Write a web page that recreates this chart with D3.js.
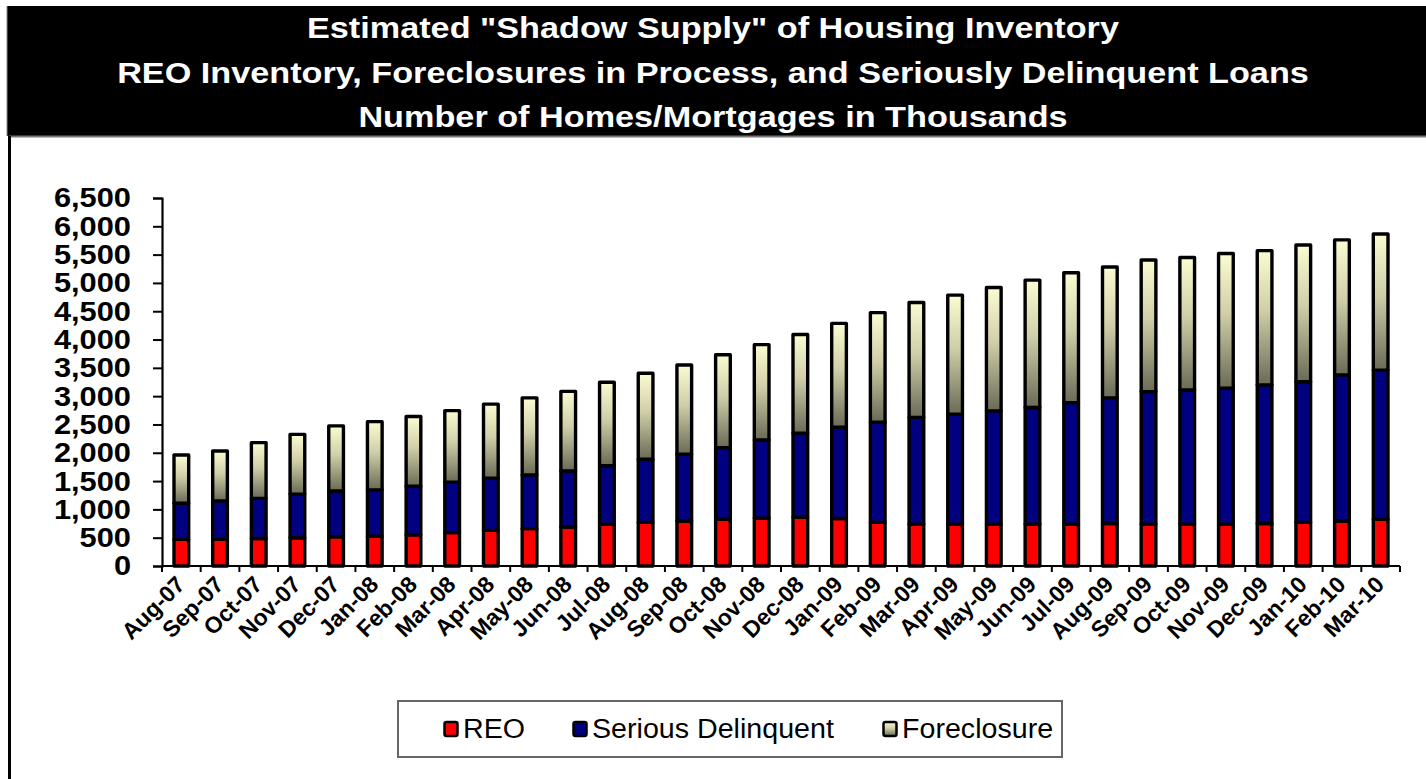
<!DOCTYPE html>
<html>
<head>
<meta charset="utf-8">
<script src="https://cdn.jsdelivr.net/npm/d3@7"></script>
<style>
  html, body { margin: 0; padding: 0; background: #fff; }
  svg { display: block; font-family: "Liberation Sans", Arial, sans-serif; }
</style>
</head>
<body>
<svg id="chart" width="1426" height="779"></svg>
<script>
// Monthly shadow inventory, thousands of homes/mortgages
const categories = ["Aug-07","Sep-07","Oct-07","Nov-07","Dec-07","Jan-08","Feb-08","Mar-08","Apr-08","May-08","Jun-08","Jul-08","Aug-08","Sep-08","Oct-08","Nov-08","Dec-08","Jan-09","Feb-09","Mar-09","Apr-09","May-09","Jun-09","Jul-09","Aug-09","Sep-09","Oct-09","Nov-09","Dec-09","Jan-10","Feb-10","Mar-10"];
const reo = [470,470,485,500,515,525,550,590,630,660,690,740,770,795,825,845,860,840,770,740,740,740,740,740,750,740,740,740,750,770,795,825];
const seriousDelinquent = [640,680,710,770,810,820,860,890,920,950,990,1030,1115,1180,1265,1380,1485,1610,1770,1885,1940,2000,2060,2145,2220,2340,2370,2400,2450,2485,2580,2635];
const foreclosure = [850,880,985,1055,1150,1205,1230,1265,1310,1360,1405,1475,1520,1575,1640,1685,1745,1835,1935,2030,2105,2180,2250,2295,2310,2325,2340,2380,2370,2415,2385,2405];
const yTickValues = [0,500,1000,1500,2000,2500,3000,3500,4000,4500,5000,5500,6000,6500];
const titleLines = [
  "Estimated \"Shadow Supply\" of Housing Inventory",
  "REO Inventory, Foreclosures in Process, and Seriously Delinquent Loans",
  "Number of Homes/Mortgages in Thousands"
];
const seriesKeys = ["reo", "sd", "fc"];
const seriesNames = { reo: "REO", sd: "Serious Delinquent", fc: "Foreclosure" };

const svg = d3.select("#chart");
const defs = svg.append("defs");

// Widen text glyphs by a factor, keeping the anchor point
function widen(sel, factor) {
  sel.each(function () {
    const w = this.getComputedTextLength();
    d3.select(this).attr("textLength", w * factor).attr("lengthAdjust", "spacingAndGlyphs");
  });
}

// Foreclosure fill: cream at the top fading to olive grey
const grad = defs.append("linearGradient")
  .attr("id", "fcGrad").attr("x1", 0).attr("y1", 0).attr("x2", 0).attr("y2", 1);
grad.append("stop").attr("offset", "0%").attr("stop-color", "#FCFCD2");
grad.append("stop").attr("offset", "45%").attr("stop-color", "#CFCEA8");
grad.append("stop").attr("offset", "100%").attr("stop-color", "#6A6A56");

const fills = { reo: "#FF0000", sd: "#000080", fc: "url(#fcGrad)" };

// Title band
svg.append("rect").attr("x", 7).attr("y", 6).attr("width", 1419).attr("height", 130).attr("fill", "#000");
svg.append("line").attr("x1", 7).attr("x2", 7).attr("y1", 6).attr("y2", 136).attr("stroke", "#888").attr("stroke-width", 1);
svg.append("g").selectAll("text").data(titleLines).join("text")
  .attr("x", 713).attr("y", (d, i) => 38 + i * 44.5)
  .attr("text-anchor", "middle")
  .attr("fill", "#fff")
  .attr("font-weight", "bold")
  .attr("font-size", 29)
  .text(d => d)
  .call(widen, 1.18);

// Chart frame
svg.append("line").attr("x1", 9).attr("x2", 1426).attr("y1", 136.5).attr("y2", 136.5).attr("stroke", "#777").attr("stroke-width", 2);
svg.append("line").attr("x1", 9.5).attr("x2", 9.5).attr("y1", 136).attr("y2", 779).attr("stroke", "#000").attr("stroke-width", 3);

// Scales
const x = d3.scaleBand().domain(categories).range([162, 1400]).paddingInner(0.62).paddingOuter(0.31);
const y = d3.scaleLinear().domain([0, 6500]).range([566, 198]);

// Stacked data
const rows = categories.map((c, i) => ({ cat: c, reo: reo[i], sd: seriousDelinquent[i], fc: foreclosure[i] }));
const stacked = d3.stack().keys(seriesKeys)(rows);

// Bars
const barG = svg.append("g");
barG.selectAll("g").data(stacked).join("g")
  .attr("fill", d => fills[d.key])
  .selectAll("rect").data(d => d).join("rect")
  .attr("x", d => x(d.data.cat))
  .attr("width", x.bandwidth())
  .attr("y", d => y(d[1]))
  .attr("height", d => y(d[0]) - y(d[1]))
  .attr("stroke", "#000")
  .attr("stroke-width", 3.4)
  .attr("stroke-linejoin", "round");

// Y axis
const yAxis = svg.append("g").attr("transform", "translate(162,0)")
  .call(d3.axisLeft(y).tickValues(yTickValues).tickSize(9).tickPadding(22).tickFormat(d3.format(",")));
yAxis.select(".domain").attr("stroke", "#000").attr("stroke-width", 2.2);
yAxis.selectAll(".tick line").attr("stroke", "#000").attr("stroke-width", 2);
yAxis.selectAll(".tick text")
  .attr("font-family", "'Liberation Sans', Arial, sans-serif")
  .attr("font-size", 28).attr("font-weight", "bold").attr("fill", "#000")
  .call(widen, 1.1);

// X axis line with ticks between the categories
const step = x.step();
const gap = step - x.bandwidth();
const boundaries = categories.map(c => x(c) - gap / 2).concat([x(categories[categories.length - 1]) + x.bandwidth() + gap / 2]);
svg.append("line").attr("x1", 162).attr("x2", boundaries[boundaries.length - 1]).attr("y1", 566).attr("y2", 566)
  .attr("stroke", "#000").attr("stroke-width", 2.2);
svg.append("g").selectAll("line").data(boundaries).join("line")
  .attr("x1", d => d).attr("x2", d => d).attr("y1", 566).attr("y2", 572)
  .attr("stroke", "#000").attr("stroke-width", 2);

// X labels, rotated
svg.append("g").selectAll("text").data(categories).join("text")
  .attr("transform", d => `translate(${x(d) + x.bandwidth() / 2 + 5},${586}) rotate(-45)`)
  .attr("text-anchor", "end")
  .attr("font-size", 23).attr("font-weight", "bold").attr("fill", "#000")
  .text(d => d);

// Legend
const legend = svg.append("g");
legend.append("rect").attr("x", 398).attr("y", 701).attr("width", 664).attr("height", 56)
  .attr("fill", "#fff").attr("stroke", "#666").attr("stroke-width", 2);
const legendX = { reo: 443, sd: 572, fc: 882 };
const items = legend.selectAll("g").data(seriesKeys).join("g")
  .attr("transform", d => `translate(${legendX[d]},0)`);
items.append("rect").attr("x", 1.5).attr("y", 722).attr("width", 13).attr("height", 14)
  .attr("rx", 2).attr("fill", d => fills[d]).attr("stroke", "#000").attr("stroke-width", 2.5);
items.append("text").attr("x", 20).attr("y", 738)
  .attr("font-size", 27).attr("fill", "#000")
  .text(d => seriesNames[d])
  .call(widen, 1.06);
</script>
</body>
</html>
